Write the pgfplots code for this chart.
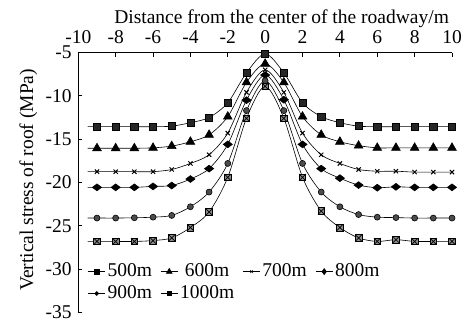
\documentclass[border=0pt]{standalone}
\usepackage{fontspec}
\setmainfont{Liberation Serif}
\usepackage{pgfplots}
\pgfplotsset{compat=1.18}
\pgfdeclareplotmark{sqx}{%
  \pgfpathrectangle{\pgfpoint{-\pgfplotmarksize}{-\pgfplotmarksize}}{\pgfpoint{2\pgfplotmarksize}{2\pgfplotmarksize}}%
  \pgfusepathqfillstroke
  \pgfpathmoveto{\pgfpoint{-\pgfplotmarksize}{-\pgfplotmarksize}}\pgfpathlineto{\pgfpoint{\pgfplotmarksize}{\pgfplotmarksize}}%
  \pgfpathmoveto{\pgfpoint{-\pgfplotmarksize}{\pgfplotmarksize}}\pgfpathlineto{\pgfpoint{\pgfplotmarksize}{-\pgfplotmarksize}}%
  \pgfusepathqstroke}
\begin{document}
\fontsize{19.5}{23}\selectfont
\begin{tikzpicture}
\path[use as bounding box] (-78.3pt,-9.5pt) rectangle (389.7pt,312.5pt);
\begin{axis}[
  scale only axis, width=373.7pt, height=260pt,
  xmin=-10, xmax=10, ymin=-35, ymax=-5,
  axis x line*=top, axis y line*=left,
  axis line style={line width=0.8pt},
  tick align=inside, major tick length=4pt,
  tick style={line width=0.8pt, black},
  xtick={-10,-8,...,10},
  xticklabels={-10,-8,-6,-4,-2,0,2,4,6,8,10},
  ytick={-35,-30,...,-5},
  yticklabels={-35,-30,-25,-20,-15,-10,-5},
  xticklabel style={yshift=2pt},
  xlabel={Distance from the center of the roadway/m},
  ylabel={Vertical stress of roof (MPa)},
  every axis x label/.style={at={(axis description cs:0.544,1.113)}, anchor=base},
  every axis y label/.style={at={(axis description cs:-0.121,0.51)}, rotate=90, anchor=base},
  every tick label/.append style={font=\fontsize{19.5}{23}\selectfont},
  legend style={at={(axis cs:-9.5,-31.55)}, anchor=west, draw=none, fill=none,
    font=\fontsize{19.5}{23}\selectfont, inner sep=0pt,
    legend columns=4, row sep=2pt,
    /tikz/every even column/.append style={column sep=6.5pt}},
  legend image post style={mark options={scale=0.65}},
  every axis plot/.append style={black, line width=0.6pt, smooth, tension=0.5, mark phase=2, mark repeat=1},
  clip=false,
]
\addplot[mark=square*, mark size=3.6pt, mark options={fill=black!85, solid}] coordinates {
(-9.5,-13.56)(-9,-13.56)(-8,-13.56)(-7,-13.56)(-6,-13.56)(-5,-13.5)(-4,-13.1)(-3,-12.5)(-2,-10.8)(-1,-7.35)(0,-5.15)
(1,-7.35)(2,-10.8)(3,-12.4)(4,-13.1)(5,-13.5)(6,-13.56)(7,-13.56)(8,-13.56)(9,-13.56)(10,-13.56)};
\addlegendentry{500m}
\addplot[mark=triangle*, mark size=5pt, mark options={fill=black, solid}] coordinates {
(-9.5,-16.05)(-9,-16.05)(-8,-16.05)(-7,-16.05)(-6,-16.0)(-5,-15.8)(-4,-15.3)(-3,-14.5)(-2,-12.4)(-1,-8.45)(0,-6.3)
(1,-8.45)(2,-12.4)(3,-14.5)(4,-15.3)(5,-15.75)(6,-16.0)(7,-16.0)(8,-16.0)(9,-16.0)(10,-16.0)};
\addlegendentry{600m}
\addplot[mark=x, mark size=3pt, mark options={line width=1pt, solid}] coordinates {
(-9.5,-18.75)(-9,-18.75)(-8,-18.75)(-7,-18.75)(-6,-18.75)(-5,-18.5)(-4,-17.8)(-3,-16.8)(-2,-14.3)(-1,-9.6)(0,-7.0)
(1,-9.6)(2,-14.3)(3,-16.8)(4,-17.8)(5,-18.5)(6,-18.7)(7,-18.7)(8,-18.8)(9,-18.8)(10,-18.8)};
\addlegendentry{700m}
\addplot[mark=diamond*, mark size=4.6pt, mark options={fill=black, rotate=90, solid}] coordinates {
(-9.5,-20.56)(-9,-20.56)(-8,-20.56)(-7,-20.56)(-6,-20.45)(-5,-20.35)(-4,-19.6)(-3,-18.4)(-2,-15.6)(-1,-10.5)(0,-7.6)
(1,-10.45)(2,-15.6)(3,-18.4)(4,-19.5)(5,-20.3)(6,-20.6)(7,-20.5)(8,-20.56)(9,-20.56)(10,-20.56)};
\addlegendentry{800m}
\addplot[mark=*, mark size=3pt, mark options={fill=black!70, solid}] coordinates {
(-9.5,-24.1)(-9,-24.1)(-8,-24.1)(-7,-24.07)(-6,-24.0)(-5,-23.8)(-4,-22.8)(-3,-21.1)(-2,-17.8)(-1,-11.7)(0,-8.25)
(1,-11.7)(2,-17.8)(3,-21.1)(4,-22.8)(5,-23.7)(6,-24.0)(7,-24.05)(8,-24.1)(9,-24.1)(10,-24.1)};
\addlegendentry{900m}
\addplot[mark=sqx, mark size=3.3pt, mark options={fill=black!45, solid, line width=0.7pt}] coordinates {
(-9.5,-26.8)(-9,-26.8)(-8,-26.8)(-7,-26.8)(-6,-26.7)(-5,-26.4)(-4,-25.2)(-3,-23.4)(-2,-19.4)(-1,-12.6)(0,-8.9)
(1,-12.6)(2,-19.4)(3,-23.3)(4,-25.2)(5,-26.4)(6,-26.8)(7,-26.6)(8,-26.8)(9,-26.8)(10,-26.8)};
\addlegendentry{1000m}
\end{axis}
\end{tikzpicture}
\end{document}
